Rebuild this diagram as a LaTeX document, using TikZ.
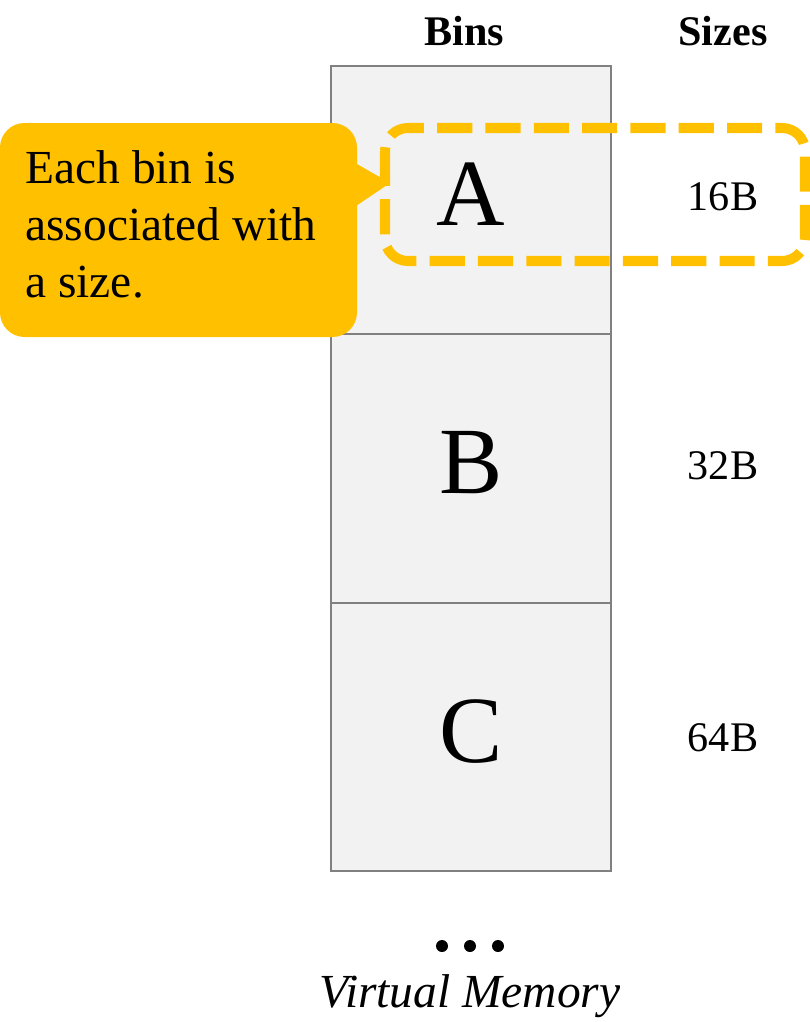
\documentclass[tikz,border=0pt]{standalone}
\usepackage{fontspec}
\setmainfont{Liberation Serif}
\definecolor{callout}{HTML}{FFC000}
\definecolor{binfill}{HTML}{F2F2F2}
\definecolor{binline}{HTML}{808080}
\tikzset{
 binbox/.style={draw=binline,fill=binfill,line width=1.1pt,minimum width=5.6cm,minimum height=5.37cm,inner sep=0pt,outer sep=0pt,text depth=7pt,font=\fontsize{54}{60}\selectfont},
 sizelabel/.style={font=\fontsize{24}{28}\selectfont},
 header/.style={font=\fontsize{24}{28}\selectfont\bfseries}
}
\begin{document}
\begin{tikzpicture}[x=0.02cm,y=-0.02cm]
 \useasboundingbox (0,0) rectangle (810,1022);
 \node[header] (bins) at (464,31) {Bins};
 \node[header] (sizes) at (723,31) {Sizes};
 \node[binbox] (a) at (471,200) {A};
 \node[binbox,anchor=north] (b) at (a.south) {B};
 \node[binbox,anchor=north] (c) at (b.south) {C};
 \node[sizelabel] (s16) at (723,197) {16B};
 \node[sizelabel] (s32) at (723,466) {32B};
 \node[sizelabel] (s64) at (723,738) {64B};
 \draw[callout,line width=5.7pt,dash pattern=on 20pt off 7.5pt,rounded corners=13pt] (385,128) rectangle (805,261);
 \fill[callout,rounded corners=14pt] (0,123) rectangle (357,337);
 \fill[callout] (350,160) -- (390,183) -- (350,210) -- cycle;
 \node[anchor=north west,align=left,inner sep=0pt,font=\fontsize{27}{32.5}\selectfont] (note) at (25,150) {Each bin is\\associated with\\a size.};
 \foreach \x in {442,470,498}
  \fill (\x,946) circle (6);
 \node[font=\fontsize{27}{32}\selectfont\itshape] (vm) at (470,996) {Virtual Memory};
\end{tikzpicture}
\end{document}
